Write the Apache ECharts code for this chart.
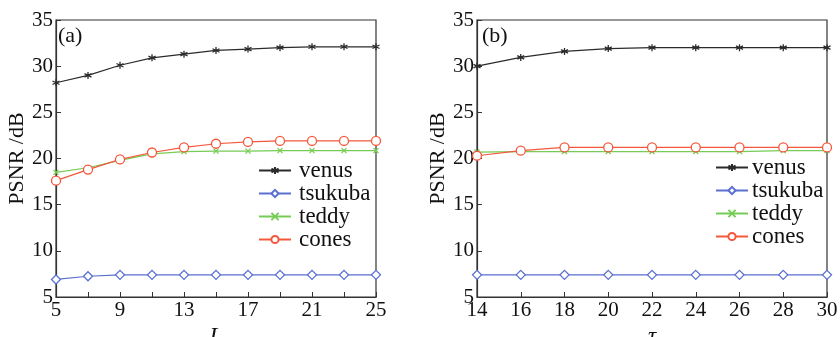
<!DOCTYPE html>
<html>
<head>
<meta charset="utf-8">
<script src="https://cdn.jsdelivr.net/npm/echarts@6/dist/echarts.min.js"></script>
<style>
  html, body { margin: 0; padding: 0; background: #fff; }
  #chart { width: 840px; height: 337px; }
</style>
</head>
<body>
<div id="chart"></div>
<script>
// (a) PSNR vs L
const L = [5, 7, 9, 11, 13, 15, 17, 19, 21, 23, 25];
const venusA = [28.2, 29.0, 30.1, 30.9, 31.3, 31.7, 31.85, 32.0, 32.1, 32.1, 32.1];
const tsukubaA = [6.9, 7.25, 7.4, 7.4, 7.4, 7.4, 7.4, 7.4, 7.4, 7.4, 7.4];
const teddyA = [18.5, 19.0, 19.8, 20.5, 20.75, 20.8, 20.8, 20.85, 20.85, 20.85, 20.85];
const conesA = [17.6, 18.8, 19.9, 20.65, 21.2, 21.6, 21.8, 21.9, 21.9, 21.9, 21.9];

// (b) PSNR vs tau
const tau = [14, 16, 18, 20, 22, 24, 26, 28, 30];
const venusB = [30.0, 30.95, 31.6, 31.9, 32.0, 32.0, 32.0, 32.0, 32.0];
const tsukubaB = [7.4, 7.4, 7.4, 7.4, 7.4, 7.4, 7.4, 7.4, 7.4];
const teddyB = [20.7, 20.75, 20.75, 20.75, 20.75, 20.75, 20.75, 20.85, 20.85];
const conesB = [20.3, 20.85, 21.2, 21.2, 21.2, 21.2, 21.2, 21.2, 21.2];

const names = ['venus', 'tsukuba', 'teddy', 'cones'];

const font = 'Liberation Serif';
const star = 'path://M0,-10L0,10M-8.66,-5L8.66,5M-8.66,5L8.66,-5';
const cross = 'path://M-10,-10L10,10M-10,10L10,-10';

const styles = {
  venus:   { color: '#2b2b2b', symbol: star, size: 7, fill: '#2b2b2b' },
  tsukuba: { color: '#5a70d0', symbol: 'diamond', size: 9, fill: '#ffffff' },
  teddy:   { color: '#77cc55', symbol: cross, size: 5, fill: '#77cc55' },
  cones:   { color: '#f4583c', symbol: 'circle', size: 9, fill: '#ffffff' }
};

function makeSeries(xs, arrs, idx) {
  return names.map((n, k) => {
    const s = styles[n];
    return {
      name: n,
      type: 'line',
      xAxisIndex: idx,
      yAxisIndex: idx,
      data: xs.map((x, i) => [x, arrs[k][i]]),
      symbol: s.symbol,
      symbolSize: s.size,
      showAllSymbol: true,
      lineStyle: { color: s.color, width: 1.2 },
      itemStyle: { color: s.fill, borderColor: s.color, borderWidth: 1.3 },
      emphasis: { disabled: true },
      z: n === 'venus' ? 3 : 2
    };
  });
}

function xAxis(idx, min, max, labelStep, name) {
  return {
    type: 'value',
    gridIndex: idx,
    min: min,
    max: max,
    interval: 2,
    name: name,
    nameLocation: 'middle',
    nameGap: 22,
    nameTextStyle: { fontFamily: font, fontSize: 23, fontStyle: 'italic', color: '#111', verticalAlign: 'top' },
    axisLine: { lineStyle: { color: '#333', width: 1.2 } },
    axisTick: { inside: true, length: 5, lineStyle: { color: '#333' } },
    axisLabel: {
      fontFamily: font, fontSize: 21, color: '#111', margin: 3,
      formatter: v => ((v - min) % labelStep === 0 ? String(v) : '')
    },
    splitLine: { show: false }
  };
}

function yAxis(idx) {
  return {
    type: 'value',
    gridIndex: idx,
    min: 5,
    max: 35,
    interval: 5,
    name: 'PSNR /dB',
    nameLocation: 'middle',
    nameGap: 25,
    nameRotate: 90,
    nameTextStyle: { fontFamily: font, fontSize: 22, color: '#111' },
    axisLine: { lineStyle: { color: '#333', width: 1.2 } },
    axisTick: { inside: true, length: 5, lineStyle: { color: '#333' } },
    axisLabel: { fontFamily: font, fontSize: 21, color: '#111', margin: 3 },
    splitLine: { show: false }
  };
}

function legend(left, top, pad) {
  return {
    data: names,
    left: left,
    top: top,
    orient: 'vertical',
    itemWidth: 32,
    itemHeight: 9,
    itemGap: 0,
    selectedMode: false,
    textStyle: { fontFamily: font, fontSize: 23, lineHeight: 21, color: '#111', padding: [0, 0, 0, pad] }
  };
}

const chart = echarts.init(document.getElementById('chart'), null, { renderer: 'canvas' });
chart.setOption({
  animation: false,
  backgroundColor: '#fff',
  grid: [
    { left: 56, top: 20, width: 320, height: 277, show: true, borderColor: '#333', borderWidth: 1.2, outerBoundsMode: 'none' },
    { left: 477, top: 20, width: 350, height: 277, show: true, borderColor: '#333', borderWidth: 1.2, outerBoundsMode: 'none' }
  ],
  xAxis: [xAxis(0, 5, 25, 4, 'L'), xAxis(1, 14, 30, 2, 'τ')],
  yAxis: [yAxis(0), yAxis(1)],
  legend: [legend(253, 154, 3), legend(710, 151, -1)],
  graphic: [
    { type: 'text', left: 58, top: 25, style: { text: '(a)', font: '22px "Liberation Serif"', fill: '#111' } },
    { type: 'text', left: 482, top: 25, style: { text: '(b)', font: '22px "Liberation Serif"', fill: '#111' } }
  ],
  series: makeSeries(L, [venusA, tsukubaA, teddyA, conesA], 0)
    .concat(makeSeries(tau, [venusB, tsukubaB, teddyB, conesB], 1))
});
</script>
</body>
</html>
